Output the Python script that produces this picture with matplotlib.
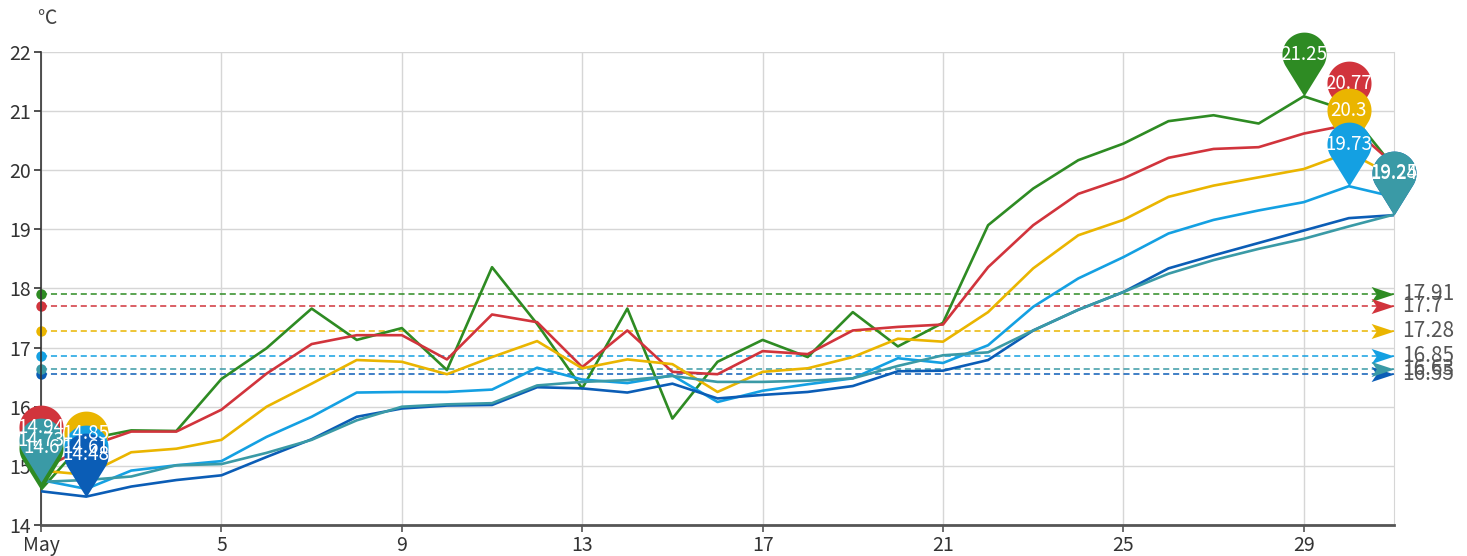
import numpy as np
import matplotlib
matplotlib.use("Agg")
import matplotlib.pyplot as plt
from matplotlib.path import Path

plt.rcParams['font.family'] = ['Noto Sans CJK SC', 'DejaVu Sans']

# data (May, daily values, ℃)
days = list(range(1, 32))
tick_days = [1, 5, 9, 13, 17, 21, 25, 29]
tick_labels = ["May", "5", "9", "13", "17", "21", "25", "29"]

green = [14.60, 15.45, 15.60, 15.59, 16.47, 16.99, 17.66, 17.13, 17.33, 16.62, 18.36,
         17.40, 16.31, 17.66, 15.80, 16.76, 17.13, 16.84, 17.60, 17.02, 17.42,
         19.07, 19.69, 20.17, 20.45, 20.83, 20.93, 20.79, 21.25, 21.00, 20.05]
red = [14.94, 15.32, 15.58, 15.58, 15.95, 16.56, 17.06, 17.21, 17.21, 16.80, 17.56,
       17.43, 16.67, 17.29, 16.59, 16.55, 16.94, 16.89, 17.29, 17.35, 17.39,
       18.36, 19.07, 19.60, 19.86, 20.21, 20.36, 20.39, 20.62, 20.77, 20.10]
yellow = [14.92, 14.85, 15.23, 15.29, 15.44, 16.00, 16.39, 16.79, 16.76, 16.55, 16.84,
          17.11, 16.65, 16.80, 16.72, 16.25, 16.59, 16.65, 16.84, 17.15, 17.10,
          17.60, 18.34, 18.90, 19.16, 19.55, 19.74, 19.88, 20.02, 20.30, 19.90]
lightblue = [14.76, 14.61, 14.92, 15.01, 15.08, 15.49, 15.83, 16.24, 16.25, 16.25, 16.29,
             16.66, 16.46, 16.40, 16.53, 16.08, 16.27, 16.38, 16.48, 16.82, 16.74,
             17.04, 17.69, 18.17, 18.53, 18.93, 19.16, 19.32, 19.46, 19.73, 19.55]
darkblue = [14.57, 14.48, 14.65, 14.76, 14.84, 15.15, 15.45, 15.83, 15.97, 16.02, 16.03,
            16.33, 16.31, 16.24, 16.39, 16.14, 16.20, 16.25, 16.35, 16.60, 16.61,
            16.79, 17.29, 17.64, 17.94, 18.34, 18.56, 18.77, 18.98, 19.19, 19.24]
teal = [14.73, 14.76, 14.82, 15.01, 15.03, 15.22, 15.44, 15.77, 16.00, 16.04, 16.06,
        16.36, 16.42, 16.45, 16.52, 16.42, 16.42, 16.44, 16.48, 16.69, 16.87,
        16.92, 17.29, 17.64, 17.94, 18.25, 18.48, 18.67, 18.84, 19.05, 19.25]

# averages as printed on the mark lines
averages = [17.91, 17.7, 17.28, 16.85, 16.55, 16.63]

series = [green, red, yellow, lightblue, darkblue, teal]
colors = ["#2e8b23", "#d1343c", "#eab500", "#14a0e2", "#0b5db6", "#3a9aa6"]


def pin_marker():
    r, d = 1.0, 1.9
    a = np.degrees(np.arccos(r / d))
    t = np.radians(np.linspace(-90 + a, 270 - a, 80))
    arc = np.column_stack([r * np.cos(t), d + r * np.sin(t)])
    verts = np.vstack([[0, 0], arc, [0, 0]])
    codes = [Path.MOVETO] + [Path.LINETO] * (len(verts) - 2) + [Path.CLOSEPOLY]
    return Path(verts, codes)


def arrow_marker():
    verts = [(0, 0), (-2, 0.66), (-1.55, 0), (-2, -0.66), (0, 0)]
    codes = [Path.MOVETO, Path.LINETO, Path.LINETO, Path.LINETO, Path.CLOSEPOLY]
    return Path(verts, codes)


pin = pin_marker()
arrow = arrow_marker()

fig = plt.figure(figsize=(14.67, 5.56), dpi=100)
ax = fig.add_axes([0.028, 0.0558, 0.9222, 0.8507])

for i, (vals, c) in enumerate(zip(series, colors)):
    ax.plot(days, vals, color=c, lw=1.9, zorder=3 + i * 0.01)

# average mark lines
for i, (avg, c) in enumerate(zip(averages, colors)):
    ax.plot([days[0], days[-1]], [avg, avg], color=c, lw=1.1, dashes=(4, 2.5), zorder=2)
    ax.plot(days[0], avg, 'o', ms=7.5, color=c, mec='none', clip_on=False, zorder=2.5)
    ax.plot(days[-1], avg, marker=arrow, ms=33, color=c, mec='none', ls='none',
            clip_on=False, zorder=2.5 + i * 0.01)
    ax.annotate(f"{avg:g}", (days[-1], avg), xytext=(6, 0), textcoords='offset points',
                ha='left', va='center', color='#555555', fontsize=15, annotation_clip=False)

# max / min pins
for i, (vals, c) in enumerate(zip(series, colors)):
    arr = np.array(vals)
    for idx in (int(arr.argmax()), int(arr.argmin())):
        ax.plot(days[idx], arr[idx], marker=pin, ms=92, color=c, mec='none', ls='none',
                clip_on=False, zorder=5 + i * 0.1)
        ax.annotate(f"{arr[idx]:g}", (days[idx], arr[idx]), xytext=(0, 30),
                    textcoords='offset points', ha='center', va='center', color='white',
                    fontsize=13.5, zorder=10, annotation_clip=False)

ax.set_xlim(1, 31)
ax.set_ylim(14, 22)
ax.set_xticks(tick_days)
ax.set_xticklabels(tick_labels)
ax.set_yticks(range(14, 23))
ax.grid(True, color='#d6d6d6', lw=1.0, zorder=0)
ax.set_axisbelow(True)

ax.spines['top'].set_visible(False)
ax.spines['right'].set_color('#d6d6d6')
ax.spines['left'].set_color('#333333')
ax.spines['left'].set_linewidth(1.2)
ax.spines['bottom'].set_color('#555555')
ax.spines['bottom'].set_linewidth(2.0)
ax.tick_params(axis='y', length=5, width=1.2, color='#333333', labelcolor='#333333',
               labelsize=14, pad=2)
ax.tick_params(axis='x', length=5, width=1.2, color='#555555', labelcolor='#333333',
               labelsize=14, pad=2)

fig.text(47 / 1467, 1 - 18 / 556, "℃", ha='center', va='center', fontsize=14, color='#444444')

fig.savefig("out.png", dpi=100)
